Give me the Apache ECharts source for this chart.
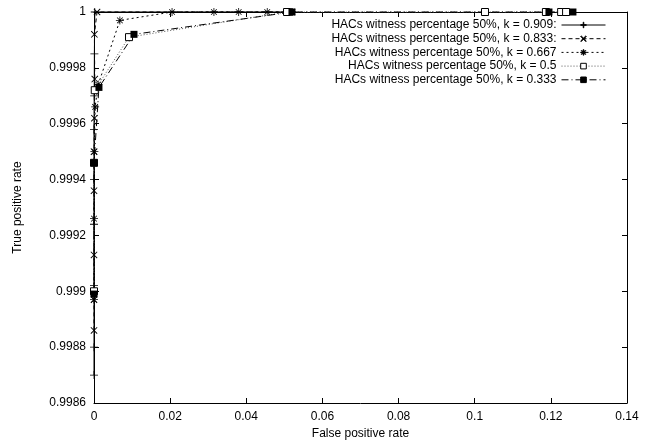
<!DOCTYPE html>
<html>
<head>
<meta charset="utf-8">
<script src="https://cdn.jsdelivr.net/npm/echarts@6/dist/echarts.min.js"></script>
<style>html,body{margin:0;padding:0;background:#fff}#c{width:645px;height:445px}</style>
</head>
<body>
<div id="c"></div>
<script>
const seriesNames = [
  'HACs witness percentage 50%, k = 0.909:',
  'HACs witness percentage 50%, k = 0.833:',
  'HACs witness percentage 50%, k = 0.667',
  'HACs witness percentage 50%, k = 0.5',
  'HACs witness percentage 50%, k = 0.333'
];
const fpr909 = [0, 0, 0, 0, 0, 0, 0.00005, 0.0001, 0.0002, 0.052];
const tpr909 = [0.99870, 0.99880, 0.99902, 0.99924, 0.99940, 0.99958, 0.99970, 0.99985, 1.0, 1.0];
const fpr833 = [0, 0, 0, 0, 0, 0.0001, 0.0002, 0.0001, 0.0008, 0.052];
const tpr833 = [0.99886, 0.99897, 0.99913, 0.99936, 0.99950, 0.99962, 0.99976, 0.99992, 1.0, 1.0];
const fpr667 = [0, 0, 0.0001, 0.0003, 0.0011, 0.0068, 0.0205, 0.0315, 0.038, 0.0455, 0.052];
const tpr667 = [0.99897, 0.99926, 0.99950, 0.99966, 0.99974, 0.99997, 1.0, 1.0, 1.0, 1.0, 1.0];
const fpr500 = [0, 0, 0.0002, 0.0092, 0.0507, 0.1027, 0.1187, 0.1227, 0.1240];
const tpr500 = [0.99900, 0.99946, 0.99972, 0.99991, 1.0, 1.0, 1.0, 1.0, 1.0];
const fpr333 = [0, 0, 0.0013, 0.0105, 0.052, 0.1195, 0.1258];
const tpr333 = [0.99899, 0.99946, 0.99973, 0.99992, 1.0, 1.0, 1.0];
const xTicks = [0, 0.02, 0.04, 0.06, 0.08, 0.1, 0.12, 0.14];
const yTicks = [0.9986, 0.9988, 0.999, 0.9992, 0.9994, 0.9996, 0.9998, 1];

const zip = (a, b) => a.map((v, i) => [v, b[i]]);
const plusPath = 'path://M-10,-1H10V1H-10Z M-1,-10H1V10H-1Z';
const crossPath = 'path://M-7.8,-6.4L-6.4,-7.8L7.8,6.4L6.4,7.8Z M6.4,-7.8L7.8,-6.4L-6.4,7.8L-7.8,6.4Z';
const starPath = 'path://M-10,-1H10V1H-10Z M-1,-10H1V10H-1Z M-7.8,-6.4L-6.4,-7.8L7.8,6.4L6.4,7.8Z M6.4,-7.8L7.8,-6.4L-6.4,7.8L-7.8,6.4Z';

const defs = [
  {x: fpr909, y: tpr909, sym: plusPath, size: 8, dash: 'solid', color: '#000'},
  {x: fpr833, y: tpr833, sym: crossPath, size: 7, dash: [4, 3], color: '#000'},
  {x: fpr667, y: tpr667, sym: starPath, size: 8, dash: [2, 3], color: '#000'},
  {x: fpr500, y: tpr500, sym: 'rect', size: 7, dash: [1, 2], color: '#555'},
  {x: fpr333, y: tpr333, sym: 'rect', size: 7, dash: [7, 3, 1, 3], color: '#000'}
];

const fmt = v => String(parseFloat(Number(v).toFixed(4)));
const axisCommon = {
  axisLine: {show: true, onZero: false, lineStyle: {color: '#000', width: 1}},
  axisTick: {show: true, inside: true, length: 5, lineStyle: {color: '#000'}},
  splitLine: {show: false}
};
const chart = echarts.init(document.getElementById('c'), null, {renderer: 'canvas'});
chart.setOption({
  animation: false,
  backgroundColor: '#fff',
  textStyle: {fontFamily: 'Liberation Sans', color: '#000'},
  grid: {left: 94, right: 18, top: 12, bottom: 39, containLabel: false},
  legend: {
    data: seriesNames,
    orient: 'vertical',
    right: 34,
    top: 14,
    align: 'right',
    itemWidth: 44,
    itemHeight: 7,
    itemGap: 1.7,
    lineStyle: {width: 1},
    itemStyle: {borderWidth: 1},
    textStyle: {fontFamily: 'Liberation Sans', fontSize: 12, color: '#000'}
  },
  xAxis: [
    Object.assign({}, axisCommon, {
      type: 'value', min: 0, max: 0.14, interval: 0.02, position: 'bottom',
      name: 'False positive rate', nameLocation: 'middle', nameGap: 25,
      nameTextStyle: {fontFamily: 'Liberation Sans', fontSize: 12, color: '#000'},
      axisLabel: {fontFamily: 'Liberation Sans', fontSize: 12, color: '#000', margin: 8, formatter: fmt}
    }),
    Object.assign({}, axisCommon, {
      type: 'value', min: 0, max: 0.14, interval: 0.02, position: 'top',
      axisLabel: {show: false}
    })
  ],
  yAxis: [
    Object.assign({}, axisCommon, {
      type: 'value', min: 0.9986, max: 1, interval: 0.0002, position: 'left',
      name: 'True positive rate', nameLocation: 'middle', nameGap: 70, nameRotate: 90,
      nameTextStyle: {fontFamily: 'Liberation Sans', fontSize: 12, color: '#000'},
      axisLabel: {fontFamily: 'Liberation Sans', fontSize: 12, color: '#000', margin: 8, formatter: fmt}
    }),
    Object.assign({}, axisCommon, {
      type: 'value', min: 0.9986, max: 1, interval: 0.0002, position: 'right',
      axisLabel: {show: false}
    })
  ],
  series: defs.map((d, i) => ({
    name: seriesNames[i],
    type: 'line',
    data: zip(d.x, d.y),
    clip: false,
    symbol: d.sym,
    symbolSize: d.size,
    showAllSymbol: true,
    lineStyle: {color: d.color, width: 1, type: d.dash},
    itemStyle: {color: i === 3 ? '#fff' : '#000', borderColor: '#000', borderWidth: i === 3 ? 1 : 0},
    emphasis: {disabled: true}
  }))
});
</script>
</body>
</html>
